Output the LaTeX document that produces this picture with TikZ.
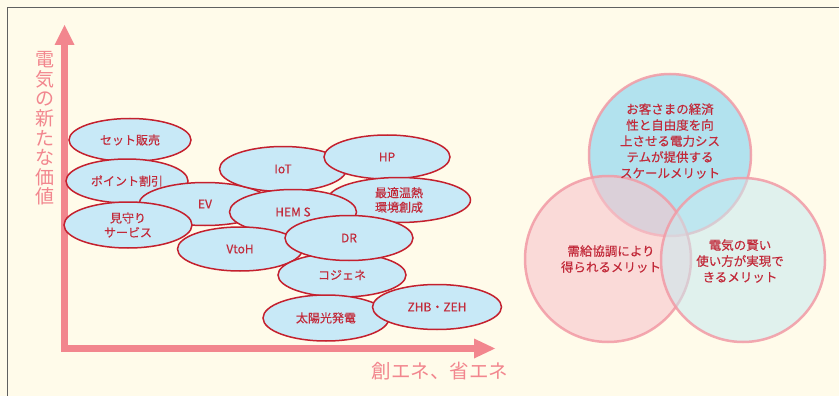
\documentclass[tikz,border=0pt]{standalone}
\usepackage{fontspec}
\setmainfont{Noto Sans CJK JP}
\newfontfamily\medfont{Noto Sans CJK JP}[FakeBold=0.35]
\usetikzlibrary{shapes.geometric}
\definecolor{bgc}{HTML}{FFFBEA}
\definecolor{framec}{HTML}{606060}
\definecolor{axisc}{HTML}{F2868E}
\definecolor{ellfill}{HTML}{C8E9F7}
\definecolor{elldraw}{HTML}{C4202E}
\definecolor{txtred}{HTML}{C22A3A}
\definecolor{ringc}{HTML}{F29AA5}
\definecolor{topfill}{HTML}{B2E2EE}
\definecolor{leftfill}{HTML}{F7C5CC}
\definecolor{rightfill}{HTML}{C8EAF0}
\begin{document}
\begin{tikzpicture}[x=1pt,y=-1pt,
  bubble/.style={ellipse, draw=elldraw, fill=ellfill, line width=1.5pt,
    inner sep=0pt, text=txtred, align=center,
    font=\medfont\fontsize{12}{14.5}\selectfont},
  ring/.style={circle, draw=ringc, draw opacity=0.85, line width=2.5pt,
    inner sep=0pt, minimum size=#1},
  ringtext/.style={text=txtred, align=center, font=\medfont\fontsize{12.5}{16}\selectfont},
  axlabel/.style={text=axisc, align=center}]
% background and frame
\fill[bgc] (0,0) rectangle (839,396);
\useasboundingbox (0,0) rectangle (839,396);
\coordinate (ftl) at (7,8);
\coordinate (ftr) at (839,8);
\coordinate (fbl) at (7,396);
\draw[framec, line width=1pt] (fbl) -- (ftl) -- (ftr);
% axes
\coordinate (org) at (64.5,348.5);
\coordinate (ybase) at (64.5,45);
\coordinate (ytip) at (64.5,25);
\coordinate (xbase) at (474,348.5);
\coordinate (xtip) at (495,348.5);
\draw[axisc, line width=6.5pt, line join=miter] (ybase) -- (org) -- (xbase);
\fill[axisc] (ytip) -- ([xshift=-10pt]ybase) -- ([xshift=10pt]ybase) -- cycle;
\fill[axisc] (xtip) -- ([yshift=10pt]xbase) -- ([yshift=-10pt]xbase) -- cycle;
\node[axlabel, font=\fontsize{19}{19.6}\selectfont] (ylab) at (45,128.5)
  {電\\気\\の\\新\\た\\な\\価\\値};
\node[axlabel, font=\fontsize{19.5}{20}\selectfont] (xlab) at (440,371) {創エネ、省エネ};
% bubbles
\node[bubble, minimum width=122pt, minimum height=43pt] (set) at (130,140) {セット販売};
\node[bubble, minimum width=122pt, minimum height=44pt] (point) at (127,181) {ポイント割引};
\node[bubble, minimum width=132pt, minimum height=43pt] (ev) at (205,204) {EV};
\node[bubble, minimum width=128pt, minimum height=46pt] (mimamori) at (128,225) {見守り\\サービス};
\node[bubble, minimum width=127pt, minimum height=45pt] (iot) at (283,169) {IoT};
\node[bubble, minimum width=126pt, minimum height=44pt] (hp) at (387,157) {HP};
\node[bubble, minimum width=143pt, minimum height=45pt] (onnetsu) at (399,200) {最適温熱\\環境創成};
\node[bubble, minimum width=127pt, minimum height=45pt] (hems) at (293,212) {HEM S};
\node[bubble, minimum width=125pt, minimum height=44pt] (vtoh) at (240,249) {VtoH};
\node[bubble, minimum width=128pt, minimum height=44pt] (cogene) at (342,275) {コジェネ};
\node[bubble, minimum width=128pt, minimum height=45pt] (dr) at (349,238) {DR};
\node[bubble, minimum width=126pt, minimum height=46pt] (solar) at (326,318) {太陽光発電};
\node[bubble, minimum width=129pt, minimum height=45pt] (zeh) at (437,307) {ZHB・ZEH};
% venn
\node[ring=162pt, fill=topfill] (ctop) at (670,155) {};
\node[ring=166pt, fill=leftfill, fill opacity=0.6] (cleft) at (608,259) {};
\node[ring=164pt, fill=rightfill, fill opacity=0.55] (cright) at (743,260) {};
\node[ringtext] (ttop) at (670,141) {お客さまの経済\\性と自由度を向\\上させる電力シス\\テムが提供する\\スケールメリット};
\node[ringtext] (tleft) at (611,259) {需給協調により\\得られるメリット};
\node[ringtext] (tright) at (740,261) {電気の賢い\\使い方が実現で\\きるメリット};
\end{tikzpicture}
\end{document}
